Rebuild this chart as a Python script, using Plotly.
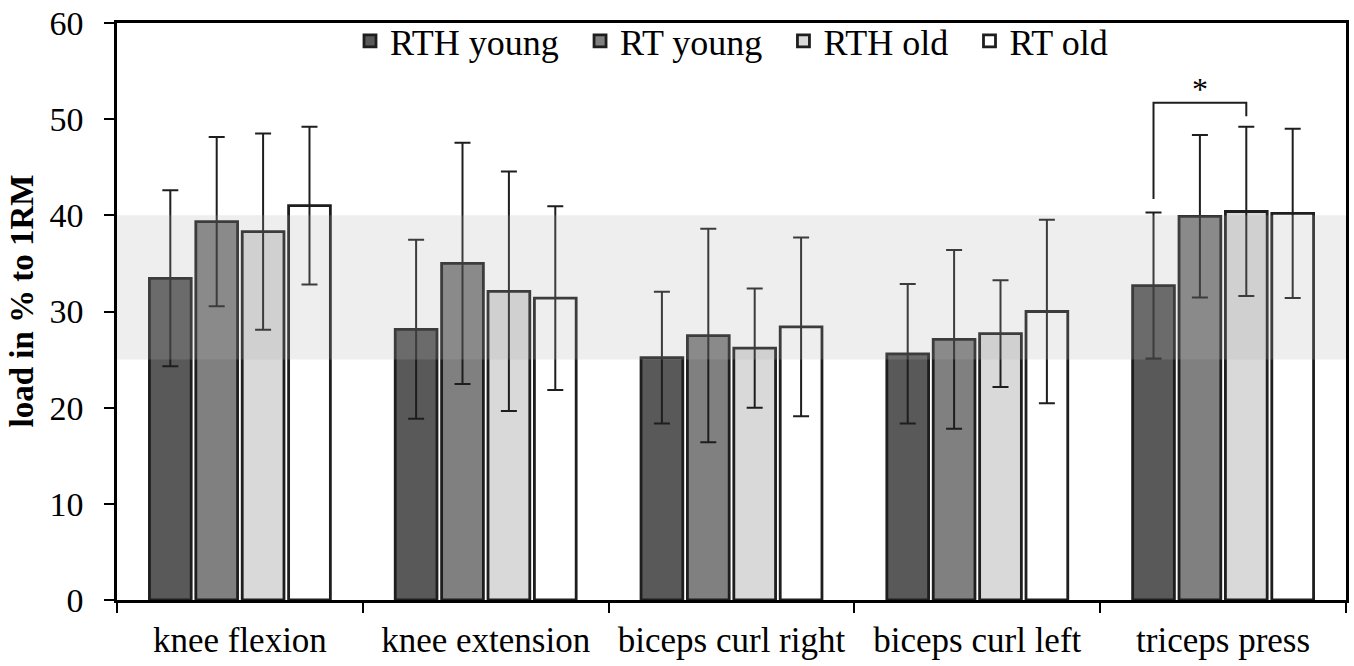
import plotly.graph_objects as go

categories = ["knee flexion", "knee extension", "biceps curl right", "biceps curl left", "triceps press"]
series_names = ["RTH young", "RT young", "RTH old", "RT old"]

rth_young = [33.45, 28.15, 25.2, 25.6, 32.7]
rt_young = [39.35, 35.0, 27.5, 27.1, 39.9]
rth_old = [38.3, 32.1, 26.2, 27.7, 40.4]
rt_old = [41.0, 31.4, 28.4, 30.0, 40.2]

rth_young_sd = [9.15, 9.3, 6.85, 7.25, 7.6]
rt_young_sd = [8.8, 12.55, 11.1, 9.3, 8.45]
rth_old_sd = [10.2, 12.45, 6.2, 5.55, 8.8]
rt_old_sd = [8.2, 9.55, 9.3, 9.55, 8.8]

colors = ["#595959", "#808080", "#d9d9d9", "#ffffff"]

y_title = "load in % to 1RM"
band_range = [25, 40]
# significance bracket: triceps press, RTH young vs RTH old
bracket_cat = 4
bracket_series = [0, 2]
bracket_y = [41.7, 51.7, 50.3]

values = [rth_young, rt_young, rth_old, rt_old]
sds = [rth_young_sd, rt_young_sd, rth_old_sd, rt_old_sd]

FONT = "Liberation Serif"
BARGAP = 0.245
GROUPGAP = 0.1
LINE = "#1e1e1e"
PAD = "\u00a0\u2009"  # extra spacing between legend entries

fig = go.Figure()
for i, (name, v, sd, c) in enumerate(zip(series_names, values, sds, colors)):
    label = name + (PAD if i < len(series_names) - 1 else "")
    fig.add_trace(go.Bar(
        name=label, x=categories, y=v,
        marker=dict(color=c, line=dict(color=LINE, width=2.8)),
        error_y=dict(type="data", array=sd, visible=True, color=LINE, thickness=2, width=8),
    ))

# gray band overlay (semi-transparent, drawn above the bars as in the original)
fig.add_shape(type="rect", xref="paper", yref="y", x0=0, x1=1, y0=band_range[0], y1=band_range[1],
              fillcolor="rgba(174,174,174,0.21)", line=dict(width=0), layer="above")

# bracket positions from bar layout
n = len(series_names)
slot = (1 - BARGAP) / n
def bar_center(cat, s):
    return cat - (1 - BARGAP) / 2 + slot * (s + 0.5)
xl = bar_center(bracket_cat, bracket_series[0])
xr = bar_center(bracket_cat, bracket_series[1])
fig.add_shape(type="path", xref="x", yref="y",
              path=f"M {xl} {bracket_y[0]} L {xl} {bracket_y[1]} L {xr} {bracket_y[1]} L {xr} {bracket_y[2]}",
              line=dict(color=LINE, width=2))
fig.add_annotation(x=(xl + xr) / 2, y=bracket_y[1], xref="x", yref="y", text="*", showarrow=False,
                   yanchor="bottom", font=dict(family=FONT, size=32, color="black"), yshift=-6)

# y-axis title (placed as an annotation for exact position)
fig.add_annotation(x=0, y=0.5, xref="paper", yref="paper", text=f"<b>{y_title}</b>", showarrow=False,
                   textangle=-90, xanchor="center", yanchor="middle", xshift=-96, yshift=10,
                   font=dict(family=FONT, size=33, color="black"))

fig.update_layout(
    width=1354, height=666,
    margin=dict(l=117, r=5, t=21, b=66),
    paper_bgcolor="white", plot_bgcolor="white",
    barmode="group", bargap=BARGAP, bargroupgap=GROUPGAP,
    font=dict(family=FONT, color="black", size=35),
    showlegend=True,
    legend=dict(orientation="h", x=0.5, xanchor="center", y=1.021, yanchor="top",
                font=dict(family=FONT, size=36, color="black"), bgcolor="rgba(0,0,0,0)",
                traceorder="normal", itemwidth=30, tracegroupgap=0),
    xaxis=dict(type="category", range=[-0.5, 4.5], showline=True, linecolor="black", linewidth=2.5,
               mirror=True, ticks="outside", tickson="boundaries", ticklen=10, tickwidth=2,
               tickcolor="black", tickfont=dict(family=FONT, size=35, color="black"), showgrid=False,
               ticklabelstandoff=7),
    yaxis=dict(range=[0, 60], dtick=10, showline=True, linecolor="black", linewidth=2.5, mirror=True,
               ticks="outside", ticklen=10, tickwidth=2, tickcolor="black", showgrid=False, zeroline=False,
               tickfont=dict(family=FONT, size=34, color="black"), ticklabelstandoff=14,
               ticklabeloverflow="allow"),
)

fig.write_html("out.html", config={"displayModeBar": False},
               post_script="document.body.style.margin='0';")
